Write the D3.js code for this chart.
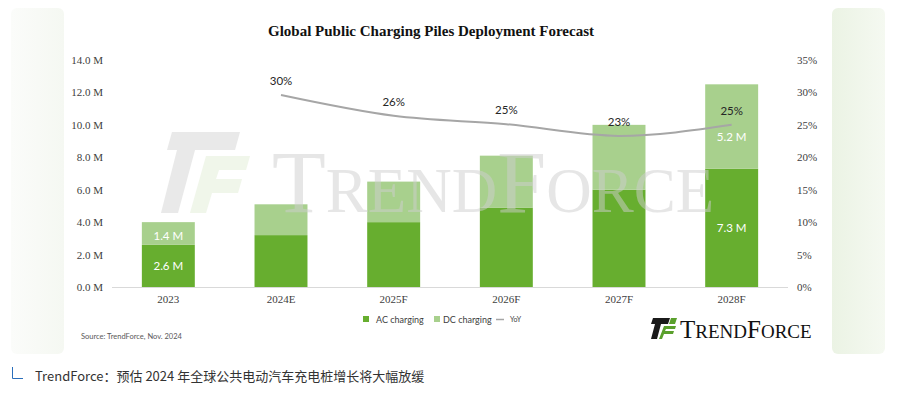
<!DOCTYPE html>
<html>
<head>
<meta charset="utf-8">
<script src="https://cdn.jsdelivr.net/npm/d3@7"></script>
<style>
  body { margin: 0; background: #fff; }
  svg { display: block; }
</style>
</head>
<body>
<svg id="chart" width="898" height="398"></svg>
<script>
// data
var years = ['2023', '2024E', '2025F', '2026F', '2027F', '2028F'];
var acCharging = [2.6, 3.2, 4.0, 4.9, 6.0, 7.3];
var dcCharging = [1.4, 1.9, 2.5, 3.2, 4.0, 5.2];
var yoyYears = ['2024E', '2025F', '2026F', '2027F', '2028F'];
var yoyValues = [29.6, 26.4, 25.1, 23.3, 25.0];
var yoyLabels = ['30%', '26%', '25%', '23%', '25%'];
var leftTicks = [0, 2, 4, 6, 8, 10, 12, 14];
var rightTicks = [0, 5, 10, 15, 20, 25, 30, 35];

var acColor = '#67ae2f', dcColor = '#a8d08d', lineColor = '#a6a6a6';
var serif = '"Liberation Serif", "Times New Roman", serif';
var sans = 'Lato, "Open Sans", sans-serif';

var svg = d3.select('#chart');
var defs = svg.append('defs');

// side panels
var g1 = defs.append('linearGradient').attr('id', 'gl').attr('x1', 0).attr('x2', 1).attr('y1', 0).attr('y2', 0);
g1.append('stop').attr('offset', '0%').attr('stop-color', '#fbfcfa');
g1.append('stop').attr('offset', '100%').attr('stop-color', '#f5f8f2');
var g2 = defs.append('linearGradient').attr('id', 'gr').attr('x1', 0).attr('x2', 1).attr('y1', 0).attr('y2', 0);
g2.append('stop').attr('offset', '0%').attr('stop-color', '#ebf3e4');
g2.append('stop').attr('offset', '100%').attr('stop-color', '#f5f9f1');
svg.append('rect').attr('x', 11).attr('y', 8).attr('width', 53).attr('height', 346).attr('rx', 6).attr('fill', 'url(#gl)');
svg.append('rect').attr('x', 832).attr('y', 8).attr('width', 53).attr('height', 346).attr('rx', 6).attr('fill', 'url(#gr)');

// title
svg.append('text')
  .attr('x', 431).attr('y', 36)
  .attr('text-anchor', 'middle')
  .style('font-family', serif).style('font-weight', 'bold').style('font-size', '15px')
  .attr('fill', '#111')
  .text('Global Public Charging Piles Deployment Forecast');

// scales
var x = d3.scaleBand().domain(years).range([112, 788]).paddingInner(0.53).paddingOuter(0.265);
var y = d3.scaleLinear().domain([0, 14]).range([287, 60]);
var y2 = d3.scaleLinear().domain([0, 35]).range([287, 60]);

// axes
var leftAxis = svg.append('g').attr('transform', 'translate(112,0)')
  .call(d3.axisLeft(y).tickValues(leftTicks).tickSize(0).tickPadding(9).tickFormat(function (d) { return d.toFixed(1) + ' M'; }));
var rightAxis = svg.append('g').attr('transform', 'translate(788,0)')
  .call(d3.axisRight(y2).tickValues(rightTicks).tickSize(0).tickPadding(9).tickFormat(function (d) { return d + '%'; }));
var bottomAxis = svg.append('g').attr('transform', 'translate(0,287)')
  .call(d3.axisBottom(x).tickSize(0).tickPadding(8));
[leftAxis, rightAxis, bottomAxis].forEach(function (a) {
  a.select('.domain').remove();
  a.selectAll('text').style('font-family', serif).style('font-size', '11px').attr('fill', '#404040');
});
svg.append('line').attr('x1', 112).attr('x2', 788).attr('y1', 287.5).attr('y2', 287.5).attr('stroke', '#d9d9d9');

// stacked bars
var barData = years.map(function (yr, i) { return { year: yr, ac: acCharging[i], dc: dcCharging[i] }; });
svg.selectAll('.ac').data(barData).enter().append('rect')
  .attr('x', function (d) { return x(d.year); })
  .attr('y', function (d) { return y(d.ac); })
  .attr('width', x.bandwidth())
  .attr('height', function (d) { return y(0) - y(d.ac); })
  .attr('fill', acColor);
svg.selectAll('.dc').data(barData).enter().append('rect')
  .attr('x', function (d) { return x(d.year); })
  .attr('y', function (d) { return y(d.ac + d.dc); })
  .attr('width', x.bandwidth())
  .attr('height', function (d) { return y(d.ac) - y(d.ac + d.dc); })
  .attr('fill', dcColor);

// watermark, faint, drawn over the bars
var wm = svg.append('g').attr('opacity', 0.5);
wm.append('path').attr('d', 'M172,132 L240,132 L235,150 L195,150 L178,213 L161,213 L177,150 L167,150 Z').attr('fill', '#d4d4d4');
wm.append('path').attr('d', 'M206,156 L250,156 L246,170 L219,170 L216,179 L242,179 L238,193 L212,193 L206,213 L190,213 Z').attr('fill', '#e2eed6');
var wmText = wm.append('text').attr('x', 272).attr('y', 212)
  .style('font-family', serif).attr('fill', '#cfcfcf');
wmText.append('tspan').style('font-size', '88px').text('T');
wmText.append('tspan').style('font-size', '63px').text('REND');
wmText.append('tspan').style('font-size', '88px').text('F');
wmText.append('tspan').style('font-size', '63px').text('ORCE');

// value labels only on first and last bar
var labelled = [barData[0], barData[barData.length - 1]];
labelled.forEach(function (d) {
  var cx = x(d.year) + x.bandwidth() / 2;
  svg.append('text').attr('x', cx).attr('y', (y(0) + y(d.ac)) / 2 + 4)
    .attr('text-anchor', 'middle').style('font-family', sans).style('font-size', '11.5px').attr('fill', '#fff')
    .text(d.ac.toFixed(1) + ' M');
  svg.append('text').attr('x', cx).attr('y', y(d.ac + d.dc * 0.38) + 4)
    .attr('text-anchor', 'middle').style('font-family', sans).style('font-size', '11.5px').attr('fill', '#fff')
    .text(d.dc.toFixed(1) + ' M');
});

// YoY line
var lineData = yoyYears.map(function (yr, i) { return { year: yr, v: yoyValues[i], label: yoyLabels[i] }; });
var line = d3.line()
  .x(function (d) { return x(d.year) + x.bandwidth() / 2; })
  .y(function (d) { return y2(d.v); })
  .curve(d3.curveMonotoneX);
svg.append('path').datum(lineData).attr('d', line)
  .attr('fill', 'none').attr('stroke', lineColor).attr('stroke-width', 2);
svg.selectAll('.yoy').data(lineData).enter().append('text')
  .attr('x', function (d) { return x(d.year) + x.bandwidth() / 2; })
  .attr('y', function (d) { return y2(d.v) - 10; })
  .attr('text-anchor', 'middle').style('font-family', sans).style('font-size', '11.5px').attr('fill', '#262626')
  .text(function (d) { return d.label; });

// legend
var lg = svg.append('g').style('font-family', sans).style('font-size', '9px').attr('fill', '#404040');
lg.append('rect').attr('x', 363).attr('y', 316).attr('width', 6).attr('height', 6).attr('fill', acColor);
lg.append('text').attr('x', 376).attr('y', 323).text('AC charging');
lg.append('rect').attr('x', 434).attr('y', 316).attr('width', 6).attr('height', 6).attr('fill', dcColor);
lg.append('text').attr('x', 443).attr('y', 323).text('DC charging');
lg.append('line').attr('x1', 496).attr('x2', 504).attr('y1', 319.5).attr('y2', 319.5).attr('stroke', lineColor).attr('stroke-width', 1.5);
lg.append('text').attr('x', 510).attr('y', 322).style('font-size', '7px').text('YoY');

// source
svg.append('text').attr('x', 81).attr('y', 339)
  .style('font-family', sans).style('font-size', '7.5px').attr('fill', '#595959')
  .text('Source: TrendForce, Nov. 2024');

// logo
var logo = svg.append('g');
logo.append('path').attr('d', 'M653,318 L670,318 L668,324 L661,324 L657,339 L651,339 L655,324 L651,324 Z').attr('fill', '#1a1a1a');
logo.append('path').attr('d', 'M664,326 L676,326 L675,329 L666,329 L665,331 L674,331 L673,334 L664,334 L662,339 L659,339 Z').attr('fill', '#5aa02c');
logo.append('path').attr('d', 'M671,318 L677,318 L675,324 L669,324 Z').attr('fill', '#5aa02c');
var logoText = logo.append('text').attr('x', 680).attr('y', 338).style('font-family', serif).attr('fill', '#111');
logoText.append('tspan').style('font-size', '25px').text('T');
logoText.append('tspan').style('font-size', '19px').text('REND');
logoText.append('tspan').style('font-size', '25px').text('F');
logoText.append('tspan').style('font-size', '19px').text('ORCE');

// caption
svg.append('path').attr('d', 'M12.5,367 V378.5 H23').attr('fill', 'none').attr('stroke', '#2a6ebb').attr('stroke-width', 1);
svg.append('text').attr('x', 35).attr('y', 381)
  .style('font-family', '"Noto Sans CJK SC", sans-serif').style('font-size', '13px').attr('fill', '#333')
  .text('TrendForce：预估 2024 年全球公共电动汽车充电桩增长将大幅放缓');
</script>
</body>
</html>
